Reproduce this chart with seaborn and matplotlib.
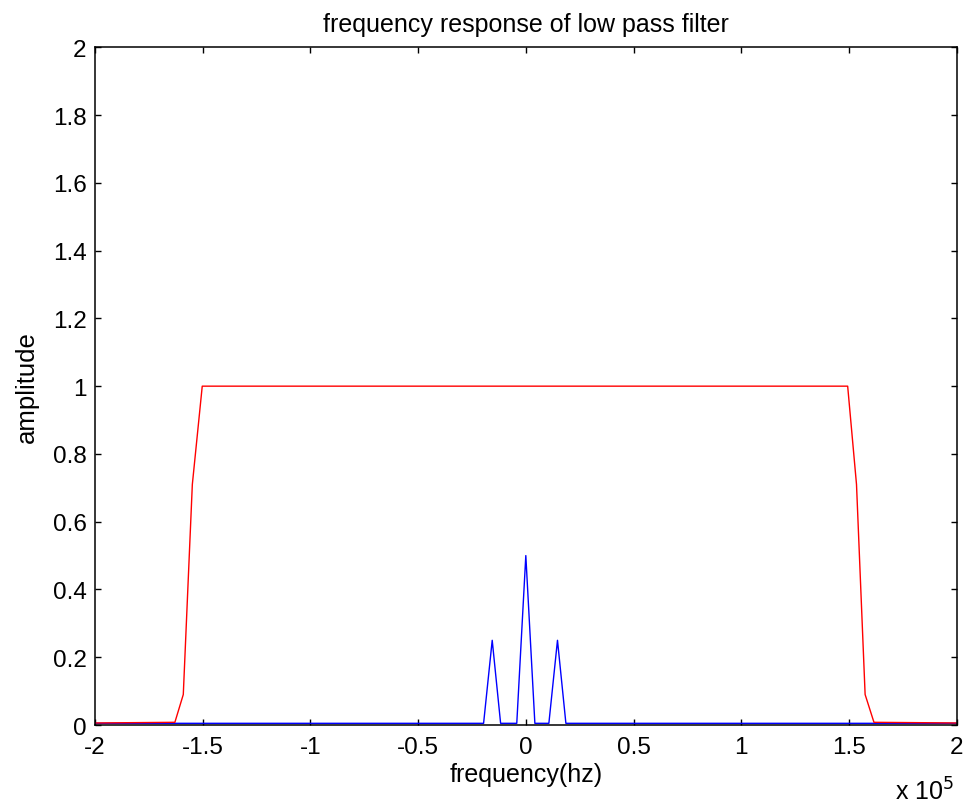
import matplotlib
matplotlib.use("Agg")
import matplotlib.pyplot as plt
import seaborn as sns
import pandas as pd
from matplotlib.ticker import FuncFormatter

# Low pass filter magnitude response (frequency in Hz)
filter_freq = [-200000, -162900, -159000, -154800, -150200,
               149400, 153500, 157500, 161600, 200000]
filter_amp = [0.006, 0.008, 0.09, 0.71, 1.0,
              1.0, 0.71, 0.09, 0.008, 0.006]

# Signal spectrum: carrier at 0 Hz with sidebands at about +/-15 kHz
signal_freq = [-200000, -19600, -15600, -11700, -4200, 0,
               4200, 10700, 14700, 18600, 200000]
signal_amp = [0.005, 0.005, 0.25, 0.005, 0.005, 0.5,
              0.005, 0.005, 0.25, 0.005, 0.005]

x_ticks = [-200000, -150000, -100000, -50000, 0, 50000, 100000, 150000, 200000]
y_ticks = [0, 0.2, 0.4, 0.6, 0.8, 1.0, 1.2, 1.4, 1.6, 1.8, 2.0]

sns.set_style("ticks")
plt.rcParams["font.family"] = ["Liberation Sans", "DejaVu Sans"]
plt.rcParams["text.color"] = "black"
plt.rcParams["axes.labelcolor"] = "black"
plt.rcParams["axes.titlecolor"] = "black"

filter_df = pd.DataFrame({"freq": filter_freq, "amp": filter_amp})
signal_df = pd.DataFrame({"freq": signal_freq, "amp": signal_amp})

fig = plt.figure(figsize=(9.68, 8.12), dpi=100)
ax = fig.add_axes([0.0981, 0.1059, 0.8902, 0.8346])

sns.lineplot(data=signal_df, x="freq", y="amp", color="#0000ff",
             linewidth=1.0, ax=ax, sort=False)
sns.lineplot(data=filter_df, x="freq", y="amp", color="#ff0000",
             linewidth=1.0, ax=ax, sort=False)

ax.set_xlim(-200000, 200000)
ax.set_ylim(0, 2)
ax.set_xticks(x_ticks)
ax.set_yticks(y_ticks)
ax.xaxis.set_major_formatter(FuncFormatter(lambda v, p: f"{v / 1e5:g}"))
ax.yaxis.set_major_formatter(FuncFormatter(lambda v, p: f"{v:g}"))

for side in ["top", "right", "left", "bottom"]:
    ax.spines[side].set_visible(True)
    ax.spines[side].set_linewidth(1.1)
    ax.spines[side].set_color("black")

ax.tick_params(direction="in", length=4, width=1.0, top=True, right=True,
               labelsize=17.5, colors="black")
ax.tick_params(axis="x", pad=8)
ax.tick_params(axis="y", pad=6)

ax.set_title("frequency response of low pass filter", fontsize=18, pad=12,
             color="black")
ax.set_xlabel("frequency(hz)", fontsize=18, labelpad=3, color="black")
ax.set_ylabel("amplitude", fontsize=18.5, labelpad=10, color="black")

fig.text(0.9245, 0.008, r"x 10$^{5}$", fontsize=18, ha="left", va="bottom",
         color="black")

fig.savefig("out.png", dpi=100, facecolor="white")
